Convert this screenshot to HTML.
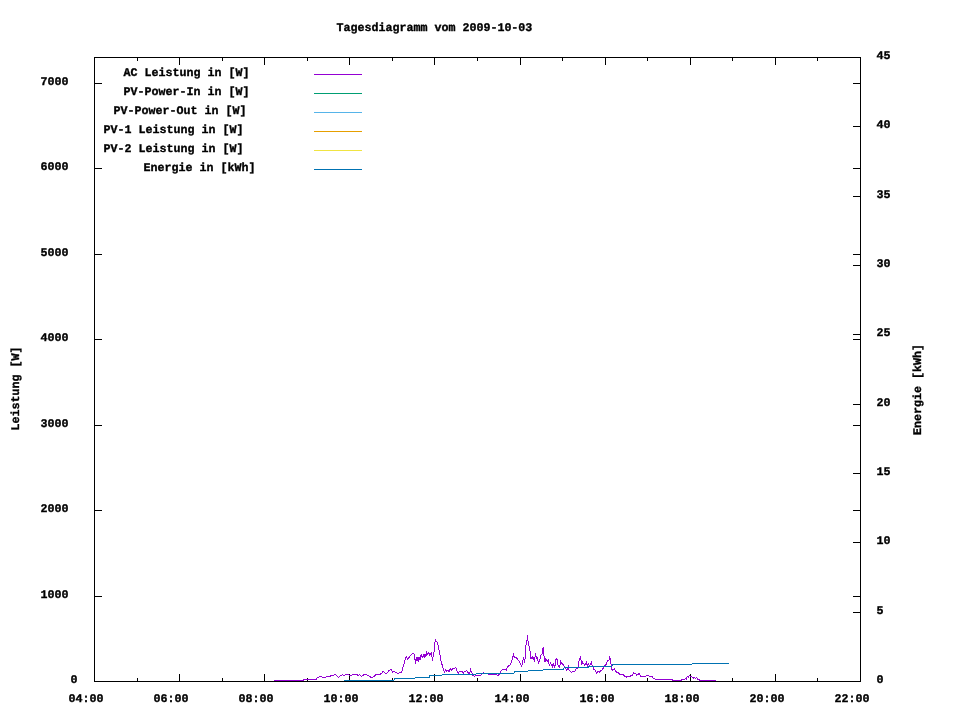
<!DOCTYPE html>
<html lang="de"><head><meta charset="utf-8"><title>Tagesdiagramm vom 2009-10-03</title>
<style>html,body{margin:0;padding:0;background:#fff}body{width:960px;height:720px;overflow:hidden}svg{display:block}text{font-family:"Liberation Mono",monospace;font-weight:bold;font-size:11.67px;letter-spacing:0;fill:#000;stroke:#000;stroke-width:0.35px;white-space:pre;text-rendering:geometricPrecision}.ax{stroke:#000;stroke-width:1;fill:none;shape-rendering:crispEdges}.ln{fill:none;stroke-width:1;shape-rendering:crispEdges;stroke-linejoin:miter}</style></head><body>
<svg width="960" height="720" viewBox="0 0 960 720">
<rect x="0" y="0" width="960" height="720" fill="#fff"/>
<rect class="ax" x="94.5" y="57.5" width="766" height="624"/>
<path class="ax" d="M94,681.5h8 M861,681.5h-8 M94,596.5h8 M861,596.5h-8 M94,510.5h8 M861,510.5h-8 M94,425.5h8 M861,425.5h-8 M94,339.5h8 M861,339.5h-8 M94,254.5h8 M861,254.5h-8 M94,168.5h8 M861,168.5h-8 M94,83.5h8 M861,83.5h-8 M861,681.5h-8 M861,612.5h-8 M861,542.5h-8 M861,473.5h-8 M861,404.5h-8 M861,334.5h-8 M861,265.5h-8 M861,196.5h-8 M861,126.5h-8 M861,57.5h-8 M94.5,682v-8 M94.5,57v8 M137.5,682v-4 M137.5,57v4 M179.5,682v-8 M179.5,57v8 M222.5,682v-4 M222.5,57v4 M264.5,682v-8 M264.5,57v8 M307.5,682v-4 M307.5,57v4 M349.5,682v-8 M349.5,57v8 M392.5,682v-4 M392.5,57v4 M434.5,682v-8 M434.5,57v8 M477.5,682v-4 M477.5,57v4 M520.5,682v-8 M520.5,57v8 M562.5,682v-4 M562.5,57v4 M605.5,682v-8 M605.5,57v8 M647.5,682v-4 M647.5,57v4 M690.5,682v-8 M690.5,57v8 M732.5,682v-4 M732.5,57v4 M775.5,682v-8 M775.5,57v8 M817.5,682v-4 M817.5,57v4 M860.5,682v-8 M860.5,57v8"/>
<text x="336.5" y="30.7">Tagesdiagramm vom 2009-10-03</text>
<text x="70.5" y="682.65">0</text>
<text x="40.5" y="597.65">1000</text>
<text x="40.5" y="511.65">2000</text>
<text x="40.5" y="426.65">3000</text>
<text x="40.5" y="340.65">4000</text>
<text x="40.5" y="255.65">5000</text>
<text x="40.5" y="169.65">6000</text>
<text x="40.5" y="84.65">7000</text>
<text x="876.5" y="682.65">0</text>
<text x="876.5" y="613.65">5</text>
<text x="876.5" y="543.65">10</text>
<text x="876.5" y="474.65">15</text>
<text x="876.5" y="405.65">20</text>
<text x="876.5" y="335.65">25</text>
<text x="876.5" y="266.65">30</text>
<text x="876.5" y="197.65">35</text>
<text x="876.5" y="127.65">40</text>
<text x="876.5" y="58.65">45</text>
<text x="68.5" y="701.65">04:00</text>
<text x="153.5" y="701.65">06:00</text>
<text x="238.5" y="701.65">08:00</text>
<text x="323.5" y="701.65">10:00</text>
<text x="408.5" y="701.65">12:00</text>
<text x="494.5" y="701.65">14:00</text>
<text x="579.5" y="701.65">16:00</text>
<text x="664.5" y="701.65">18:00</text>
<text x="749.5" y="701.65">20:00</text>
<text x="834.5" y="701.65">22:00</text>
<text transform="translate(18.85,430.5) rotate(-90)">Leistung [W]</text>
<text transform="translate(920.85,435) rotate(-90)">Energie [kWh]</text>
<text x="123.5" y="75.65">AC Leistung in [W]</text>
<path class="ln" stroke="#9400d3" d="M314,74.5H362"/>
<text x="123.5" y="94.65">PV-Power-In in [W]</text>
<path class="ln" stroke="#009e73" d="M314,93.5H362"/>
<text x="113.5" y="113.65">PV-Power-Out in [W]</text>
<path class="ln" stroke="#56b4e9" d="M314,112.5H362"/>
<text x="103.5" y="132.65">PV-1 Leistung in [W]</text>
<path class="ln" stroke="#e69f00" d="M314,131.5H362"/>
<text x="103.5" y="151.65">PV-2 Leistung in [W]</text>
<path class="ln" stroke="#f0e442" d="M314,150.5H362"/>
<text x="143.5" y="170.65">Energie in [kWh]</text>
<path class="ln" stroke="#0072b2" d="M314,169.5H362"/>
<polyline class="ln" stroke="#9400d3" points="274,680.5 303.3,680.5 304,679.5 316.25,679.5 317.5,677.3 320,676.8 321.25,676.3 322.9,677.5 325.4,677.3 326.7,676.5 330,676.3 331.25,675.4 333.75,675.25 335,674.3 336.25,675.4 338.3,677.5 340.4,675.7 342.5,674.6 344.2,675.4 345.8,674.6 348.3,674.3 349.6,675.4 350.8,675.4 352.5,674.7 356.7,674.5 358.3,675.4 359.8,674.7 361.5,676.7 363.8,674.7 366.7,674.7 369.2,676.3 371.3,677.5 372.9,677.3 375.8,674.7 380,674.3 381.7,673.3 383.3,671.3 385.4,673.3 387.1,672.9 389.2,670.4 390.8,669.3 392.5,672.1 394.2,671.3 395.8,672.5 398.3,673.3 400,672.5 401.7,672.1 402.5,669.2 403.75,665 405,660 406.25,656.7 407.9,659.2 409.2,657.1 410.8,655 412.5,653.3 413.75,653.5 414.6,655 415.4,664.2 416.25,657.5 417.1,660.8 417.7,656.7 418.5,659.6 419.2,656.7 420,660 420.8,655.8 421.5,654.6 422.5,658.3 423.3,654.2 424.2,657.9 424.8,653.75 425.8,656.7 426.7,652.5 427.9,654.2 428.75,652.5 429.6,655 430.4,653.75 431.5,652.5 432.5,661.25 433.3,655 434.2,650.8 434.6,643.3 435.7,640.4 436.7,641.7 437.5,642.5 438.3,646.7 439.6,652.5 440.4,657.5 441.25,662.5 442.5,665.8 443.75,670.8 444.6,672.1 445.7,669.6 446.7,671.25 447.9,670.8 449.2,671.25 450.4,668.75 451.5,670 452.5,668.75 454.2,668.5 455.4,667.7 456.5,668.75 457.3,672.1 458.3,673.3 459.6,671.25 461.7,671.25 463.3,672.9 464.3,671.25 465.8,671.25 466.7,670.4 467.5,671.7 468.75,673.3 469.8,673.3 470.4,669.2 471.25,671.25 472.1,673.3 472.9,675.4 474.2,676.25 475.4,675.8 476.25,675 480.8,675 481.7,673.75 482.9,673.3 483.5,672.5 484.2,673.75 488.3,673.75 488.75,674.6 489.6,673.75 490.8,674.2 496.7,674.6 497.9,675.4 499.2,674.6 500.4,671.7 501.7,670 502.9,669.3 505.4,669.2 506.25,670 507.5,666.7 508.75,665.8 510,665.2 510.8,663.8 512.1,659.7 513.5,654.7 514.6,657.2 516.25,657.6 517.9,659.7 520,662.6 521.7,666.3 522.5,662.2 523.5,657.6 524.6,663.4 525.4,655.5 525.8,646.3 526.7,642.2 527.5,635.5 528.3,644.7 529.3,646.3 530.4,653 531,658.4 532.1,656.75 533.2,659.7 533.75,657.6 534.6,662.2 535.4,652.6 536.5,659.25 537.1,656.75 537.7,660.1 538.75,663 540,659.25 541,655.1 542.3,653.8 542.75,648.8 543.6,647.6 543.75,655.5 544.6,657.6 545,662.2 545.8,659.25 547.1,661.3 548.2,660.1 548.75,663 549.6,666.3 550.4,662.6 551.5,664.7 552.3,667.2 553.3,663.4 554.2,667.2 555.4,664.7 555.7,660.1 556.5,658.4 557.5,659.7 557.9,664.7 559.2,667.2 560,664.7 560.4,660.5 561.5,663.8 562.3,663.4 563.3,665.1 565,667.6 566.7,670.1 568.3,666.75 569.2,670.5 571.25,672.2 573.3,671.3 575,671.3 575.8,669.25 577.5,668.4 578.3,667.2 578.75,662.2 579.6,659.25 580.4,656.3 581.25,661.3 581.7,664.7 582.5,662.2 584.6,665.1 586.5,662.2 587.5,666.75 588.3,663.4 589.6,665.9 590.4,663.8 591.5,662.2 592.1,665.1 592.9,665.5 593.75,669.7 595,670.1 596.7,673.4 597.9,671.3 599.2,672.2 600.8,670.9 602.5,669.25 603.75,667.2 605,664.7 605.8,665.5 606.7,662.2 607.9,660.5 608.75,660.9 609.6,657.2 610.4,659.25 611,663.8 611.7,669.25 612.7,670.5 614.2,668.8 615.4,670.9 617.1,673 618.3,672.6 619.7,674.6 621.3,675 623.4,674.6 624.7,676.25 626.3,677.1 627.6,676.5 630.1,676.5 630.9,675.4 632.6,675 633.7,672.5 634.7,673.75 635.5,673.3 636.5,675 638,674.3 639.5,673.5 640.7,676.25 645.9,676.25 646.75,675.4 648.4,675.4 649.25,676.5 652.2,676.5 653.4,678.3 654.7,678.75 655.9,679.4 672.2,679.4 673,680.5 680.9,680.5 681.75,679.4 684.7,679.4 685.9,678.3 686.5,679.2 687.2,676.7 688.4,677.1 689.5,675.4 690.5,676.7 691.7,676.7 693.3,678.3 694.6,677.3 695.4,678.75 696.7,677.5 697.9,679.2 699.2,679.4 700,680.5 715.8,680.5"/>
<polyline class="ln" stroke="#0072b2" points="343.80,680.5 393.60,680.5 394.60,678.5 414.80,678.5 415.80,677.5 429.00,677.5 430.00,675.5 441.40,675.5 442.40,674.5 475.40,674.5 476.40,673.5 513.80,673.5 514.80,671.5 527.70,671.5 528.70,670.5 542.70,670.5 543.70,669.5 563.15,669.5 564.15,667.5 588.15,667.5 589.15,666.5 611.90,666.5 612.90,664.5 691.80,664.5 692.80,663.5 728.75,663.5"/>
</svg></body></html>
